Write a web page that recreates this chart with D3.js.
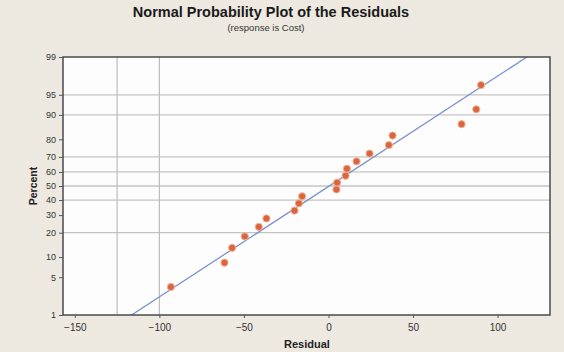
<!DOCTYPE html>
<html>
<head>
<meta charset="utf-8">
<script src="https://cdn.jsdelivr.net/npm/d3@7"></script>
<style>
  html, body { margin: 0; padding: 0; background: #ede9e1; }
  svg { display: block; font-family: "Liberation Sans", Arial, sans-serif; }
</style>
</head>
<body>
<div id="chart"></div>
<script>
// residuals, smallest to largest
const residuals = [-93.2, -61.5, -57.0, -49.5, -41.2, -36.7, -20.1, -17.5, -15.6,
  4.7, 5.1, 10.1, 10.9, 16.6, 24.3, 35.7, 37.9, 78.7, 87.4, 90.2];
const percentTicks = [1, 5, 10, 20, 30, 40, 50, 60, 70, 80, 90, 95, 99];
const percentGrid = [20, 40, 50, 60, 70, 90, 95];
const residualTicks = [-150, -100, -50, 0, 50, 100];
const residualGrid = [-125, -100];

// inverse normal cdf (Acklam)
function qnorm(p) {
  const a = [-39.69683028665376, 220.9460984245205, -275.9285104469687, 138.3577518672690, -30.66479806614716, 2.506628277459239];
  const b = [-54.47609879822406, 161.5858368580409, -155.6989798598866, 66.80131188771972, -13.28068155288572];
  const c = [-0.007784894002430293, -0.3223964580411365, -2.400758277161838, -2.549732539343734, 4.374664141464968, 2.938163982698783];
  const d = [0.007784695709041462, 0.3224671290700398, 2.445134137142996, 3.754408661907416];
  const pl = 0.02425;
  let q, r;
  if (p < pl) {
    q = Math.sqrt(-2 * Math.log(p));
    return (((((c[0]*q+c[1])*q+c[2])*q+c[3])*q+c[4])*q+c[5]) / ((((d[0]*q+d[1])*q+d[2])*q+d[3])*q+1);
  }
  if (p > 1 - pl) {
    q = Math.sqrt(-2 * Math.log(1 - p));
    return -(((((c[0]*q+c[1])*q+c[2])*q+c[3])*q+c[4])*q+c[5]) / ((((d[0]*q+d[1])*q+d[2])*q+d[3])*q+1);
  }
  q = p - 0.5; r = q * q;
  return (((((a[0]*r+a[1])*r+a[2])*r+a[3])*r+a[4])*r+a[5])*q / (((((b[0]*r+b[1])*r+b[2])*r+b[3])*r+b[4])*r+1);
}

const W = 564, H = 352;
const pLeft = 63, pRight = 550, pTop = 57, pBottom = 315;

const svg = d3.select("#chart").append("svg").attr("width", W).attr("height", H);

const x = d3.scaleLinear().domain([-157, 131]).range([pLeft, pRight]);
const zMax = qnorm(0.99);
const y = d3.scaleLinear().domain([-zMax, zMax]).range([pBottom, pTop]);
const yp = p => y(qnorm(p / 100));

// plot area
svg.append("rect").attr("x", pLeft).attr("y", pTop)
  .attr("width", pRight - pLeft).attr("height", pBottom - pTop)
  .attr("fill", "#fdfdfd");

// grid
svg.append("g").selectAll("line").data(percentGrid).join("line")
  .attr("x1", pLeft).attr("x2", pRight)
  .attr("y1", d => yp(d)).attr("y2", d => yp(d))
  .attr("stroke", "#c4c4c4").attr("stroke-width", 1.3);
svg.append("g").selectAll("line").data(residualGrid).join("line")
  .attr("x1", d => x(d)).attr("x2", d => x(d))
  .attr("y1", pTop).attr("y2", pBottom)
  .attr("stroke", "#bcbcbc").attr("stroke-width", 1.2);

// fitted line from mean / sd
const mu = d3.mean(residuals), sd = d3.deviation(residuals);
svg.append("defs").append("clipPath").attr("id", "clip")
  .append("rect").attr("x", pLeft).attr("y", pTop).attr("width", pRight - pLeft).attr("height", pBottom - pTop);
const zLo = -3, zHi = 3;
svg.append("line")
  .attr("clip-path", "url(#clip)")
  .attr("x1", x(mu + zLo * sd)).attr("y1", y(zLo))
  .attr("x2", x(mu + zHi * sd)).attr("y2", y(zHi))
  .attr("stroke", "#7c95cc").attr("stroke-width", 1.3);

// points at plotting positions (i - 0.3)/(n + 0.4)
const n = residuals.length;
svg.append("g").selectAll("circle").data(residuals).join("circle")
  .attr("cx", d => x(d))
  .attr("cy", (d, i) => y(qnorm((i + 1 - 0.3) / (n + 0.4))))
  .attr("r", 3.6)
  .attr("fill", "#d9663f")
  .attr("stroke", "#f3b497").attr("stroke-width", 1);

// frame
svg.append("rect").attr("x", pLeft).attr("y", pTop)
  .attr("width", pRight - pLeft).attr("height", pBottom - pTop)
  .attr("fill", "none").attr("stroke", "#4a4a4a").attr("stroke-width", 1.5);

// axes
const yAxis = d3.axisLeft(y).tickValues(percentTicks.map(p => qnorm(p / 100)))
  .tickFormat((d, i) => percentTicks[i]).tickSize(4).tickPadding(3);
svg.append("g").attr("transform", `translate(${pLeft},0)`).call(yAxis)
  .call(g => g.select(".domain").remove())
  .call(g => g.selectAll("line").attr("stroke", "#555"))
  .call(g => g.selectAll("text").attr("font-size", 9).attr("fill", "#333")
    .attr("font-family", "Liberation Sans, Arial, sans-serif"));

const xAxis = d3.axisBottom(x).tickValues(residualTicks).tickSize(3).tickPadding(6);
svg.append("g").attr("transform", `translate(0,${pBottom})`).call(xAxis)
  .call(g => g.select(".domain").remove())
  .call(g => g.selectAll("line").attr("stroke", "#555"))
  .call(g => g.selectAll("text").attr("font-size", 10).attr("fill", "#333")
    .attr("font-family", "Liberation Sans, Arial, sans-serif"));

// titles
svg.append("text").attr("x", 271).attr("y", 17).attr("text-anchor", "middle")
  .attr("font-size", 14.5).attr("font-weight", "bold").attr("fill", "#1a1a1a")
  .text("Normal Probability Plot of the Residuals");
svg.append("text").attr("x", 266).attr("y", 31).attr("text-anchor", "middle")
  .attr("font-size", 9.5).attr("fill", "#333")
  .text("(response is Cost)");
svg.append("text").attr("x", 307).attr("y", 348).attr("text-anchor", "middle")
  .attr("font-size", 11).attr("font-weight", "bold").attr("fill", "#222")
  .text("Residual");
svg.append("text")
  .attr("transform", `translate(37,${(pTop + pBottom) / 2}) rotate(-90)`)
  .attr("text-anchor", "middle")
  .attr("font-size", 10.5).attr("font-weight", "bold").attr("fill", "#222")
  .text("Percent");
</script>
</body>
</html>
